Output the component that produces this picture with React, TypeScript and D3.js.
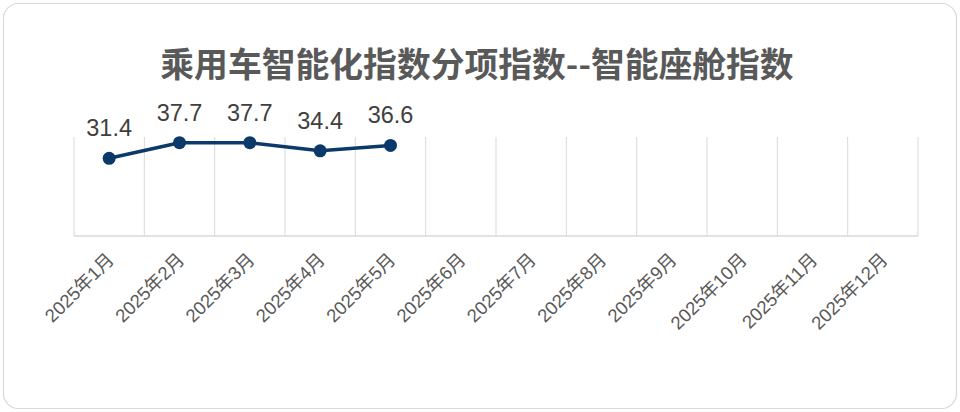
import React, { useEffect, useRef } from 'react';
import * as d3 from 'd3';

const months = ['2025年1月', '2025年2月', '2025年3月', '2025年4月', '2025年5月', '2025年6月',
  '2025年7月', '2025年8月', '2025年9月', '2025年10月', '2025年11月', '2025年12月'];
const cabinIndex = [31.4, 37.7, 37.7, 34.4, 36.6];
const title = '乘用车智能化指数分项指数--智能座舱指数';

const W = 960;
const H = 412;
const FONT = '"Liberation Sans", Arial, "Noto Sans CJK SC", sans-serif';

export default function App() {
  const svgRef = useRef<SVGSVGElement>(null);

  useEffect(() => {
    if (!svgRef.current) return;
    const svg = d3.select(svgRef.current);
    svg.selectAll('*').remove();

    // outer frame
    svg.append('rect')
      .attr('x', 3.5).attr('y', 3.5)
      .attr('width', W - 7).attr('height', H - 7)
      .attr('rx', 15)
      .attr('fill', '#fff')
      .attr('stroke', '#d9d9d9')
      .attr('stroke-width', 1.2);

    svg.append('text')
      .attr('x', 477).attr('y', 77)
      .attr('text-anchor', 'middle')
      .attr('font-family', '"Noto Sans CJK SC", sans-serif')
      .attr('font-weight', 'bold')
      .attr('font-size', 33.8)
      .attr('fill', '#595959')
      .text(title);

    const x = d3.scaleBand<string>().domain(months).range([74, 918]);
    const y = d3.scaleLinear().domain([0, 40]).range([236, 137]);

    // vertical gridlines at category boundaries
    const bounds = months.map(m => x(m)!).concat([x.range()[1]]);
    svg.append('g').selectAll('line')
      .data(bounds)
      .enter().append('line')
      .attr('x1', d => d).attr('x2', d => d)
      .attr('y1', y(40)).attr('y2', y(0))
      .attr('stroke', '#d9d9d9')
      .attr('stroke-width', 1);

    svg.append('line')
      .attr('x1', 74).attr('x2', 918)
      .attr('y1', y(0)).attr('y2', y(0))
      .attr('stroke', '#d9d9d9')
      .attr('stroke-width', 1.5);

    // category labels
    svg.append('g').selectAll('text')
      .data(months)
      .enter().append('text')
      .attr('transform', d => `translate(${x(d)! + x.bandwidth() / 2 + 6},261) rotate(-45)`)
      .attr('text-anchor', 'end')
      .attr('font-family', FONT)
      .attr('font-size', 18.5)
      .attr('fill', '#595959')
      .text(d => d);

    const cx = (i: number) => x(months[i])! + x.bandwidth() / 2;

    const line = d3.line<number>()
      .x((_, i) => cx(i))
      .y(d => y(d));

    svg.append('path')
      .datum(cabinIndex)
      .attr('d', line)
      .attr('fill', 'none')
      .attr('stroke', '#0b3a6a')
      .attr('stroke-width', 3.5)
      .attr('stroke-linejoin', 'round');

    svg.append('g').selectAll('circle')
      .data(cabinIndex)
      .enter().append('circle')
      .attr('cx', (_, i) => cx(i))
      .attr('cy', d => y(d))
      .attr('r', 6.5)
      .attr('fill', '#0b3a6a');

    svg.append('g').selectAll('text')
      .data(cabinIndex)
      .enter().append('text')
      .attr('x', (_, i) => cx(i))
      .attr('y', d => y(d) - 22)
      .attr('text-anchor', 'middle')
      .attr('font-family', FONT)
      .attr('font-size', 23.5)
      .attr('fill', '#404040')
      .text(d => d.toFixed(1));
  }, []);

  return (
    <svg ref={svgRef} width={W} height={H}
      style={{ position: 'absolute', left: 0, top: 0, display: 'block' }} />
  );
}
